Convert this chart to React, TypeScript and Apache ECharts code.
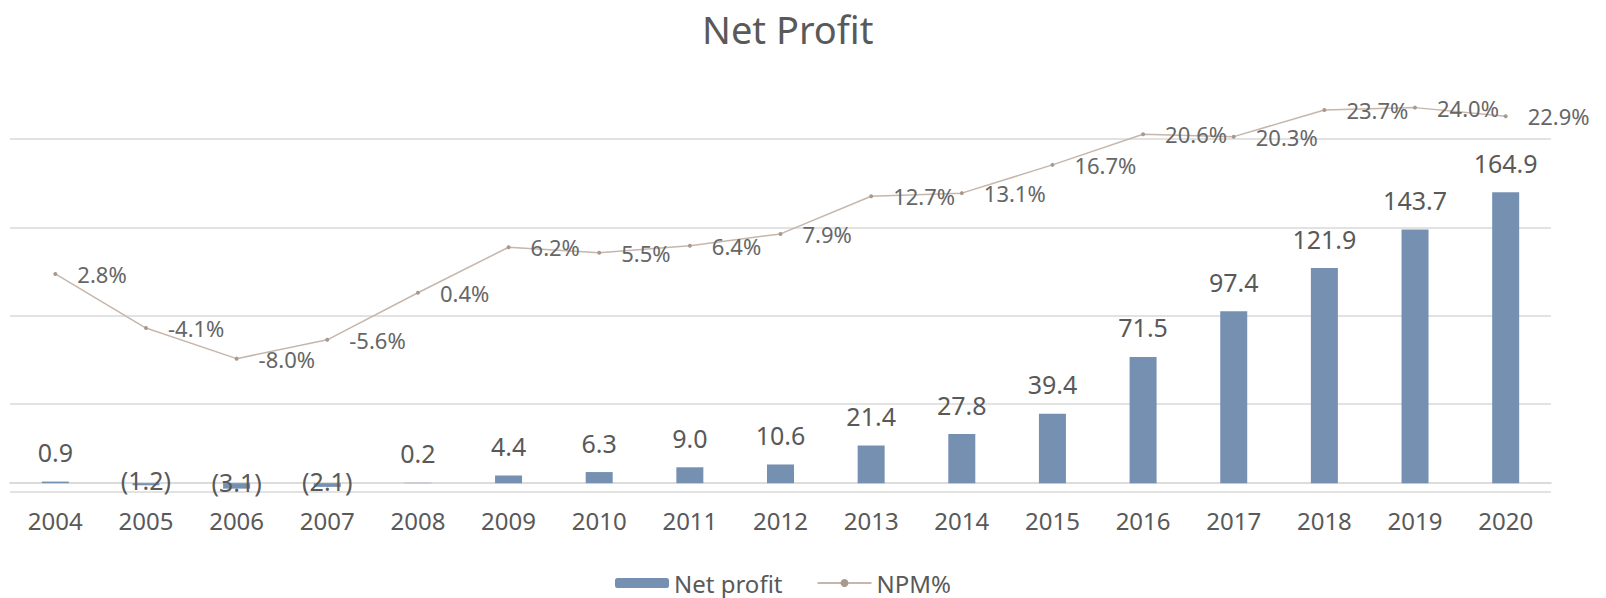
import React, { useEffect, useRef } from "react";
import * as echarts from "echarts";

const years = ["2004", "2005", "2006", "2007", "2008", "2009", "2010", "2011", "2012", "2013", "2014", "2015", "2016", "2017", "2018", "2019", "2020"];
const netProfit = [0.9, -1.2, -3.1, -2.1, 0.2, 4.4, 6.3, 9.0, 10.6, 21.4, 27.8, 39.4, 71.5, 97.4, 121.9, 143.7, 164.9];
const npm = [2.8, -4.1, -8.0, -5.6, 0.4, 6.2, 5.5, 6.4, 7.9, 12.7, 13.1, 16.7, 20.6, 20.3, 23.7, 24.0, 22.9];

const FONT = "Noto Sans";
const TEXT = "#595959";

export default function App() {
  const ref = useRef<HTMLDivElement>(null);
  useEffect(() => {
    if (!ref.current) return;
    const chart = echarts.init(ref.current, undefined, { renderer: "svg" });
    const barData = netProfit.map((v) =>
      v < 0
        ? { value: v, label: { position: "inside", offset: [0, -4] } }
        : { value: v }
    );
    chart.setOption({
      animation: false,
      backgroundColor: "#ffffff",
      textStyle: { fontFamily: FONT },
      title: {
        text: "Net Profit",
        left: 697,
        top: 5,
        textStyle: { fontFamily: FONT, fontSize: 38, fontWeight: "normal", color: TEXT },
      },
      legend: {
        left: 610,
        top: 566,
        itemWidth: 54,
        itemHeight: 10,
        itemGap: 34,
        textStyle: { fontFamily: FONT, fontSize: 24, color: TEXT },
        data: ["Net profit", "NPM%"],
      },
      grid: { left: 10, right: 55, top: 139, height: 353 },
      xAxis: {
        type: "category",
        data: years,
        axisLine: { onZero: true, onZeroAxisIndex: 0, lineStyle: { color: "#d0d0d0", width: 1.5 } },
        axisTick: { show: false },
        axisLabel: { fontFamily: FONT, fontSize: 24, color: TEXT, margin: 16 },
      },
      yAxis: [
        {
          type: "value",
          min: -5,
          max: 195,
          interval: 50,
          axisLabel: { show: false },
          axisLine: { show: false },
          axisTick: { show: false },
          splitLine: { lineStyle: { color: "#d9d9d9", width: 1.5 } },
        },
        {
          type: "value",
          min: -25,
          max: 20,
          show: false,
          splitLine: { show: false },
        },
      ],
      series: [
        {
          name: "Net profit",
          type: "bar",
          yAxisIndex: 0,
          barWidth: 27,
          itemStyle: { color: "#7690b1" },
          data: barData,
          label: {
            show: true,
            position: "top",
            distance: 17,
            fontFamily: FONT,
            fontSize: 25,
            color: TEXT,
            formatter: (p: any) => {
              const v = p.value as number;
              return v < 0 ? `(${Math.abs(v).toFixed(1)})` : v.toFixed(1);
            },
          },
        },
        {
          name: "NPM%",
          type: "line",
          yAxisIndex: 1,
          clip: false,
          symbol: "circle",
          symbolSize: 4,
          lineStyle: { color: "#c6b6ab", width: 1.5 },
          itemStyle: { color: "#a8998f" },
          data: npm,
          z: 5,
          label: {
            show: true,
            position: "right",
            distance: 20,
            fontFamily: FONT,
            fontSize: 22,
            color: "#666666",
            formatter: (p: any) => `${(p.value as number).toFixed(1)}%`,
          },
        },
      ],
    });
    return () => chart.dispose();
  }, []);
  return (
    <div
      ref={ref}
      style={{ position: "absolute", left: 0, top: 0, width: 1606, height: 598 }}
    />
  );
}
